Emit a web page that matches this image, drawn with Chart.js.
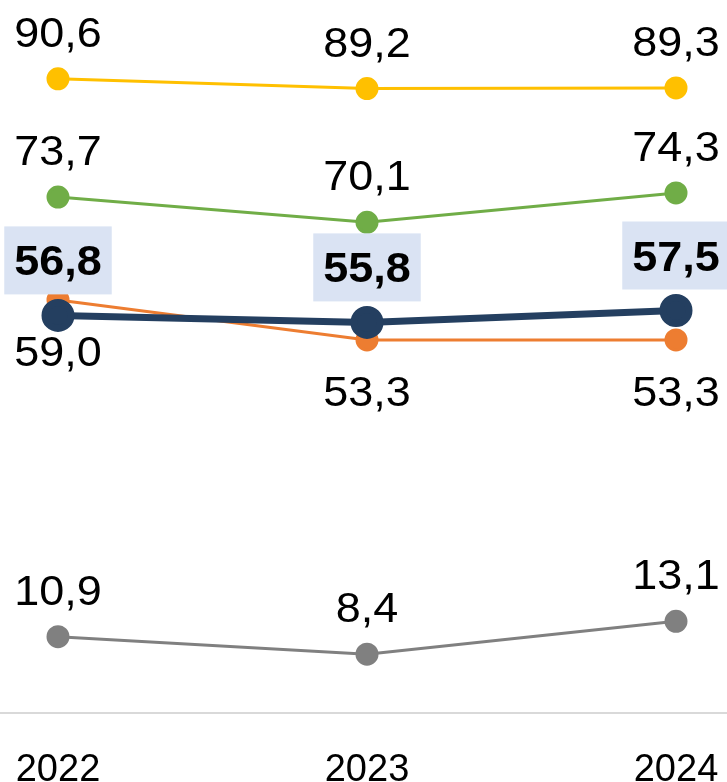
<!DOCTYPE html>
<html>
<head>
<meta charset="utf-8">
<script src="https://cdn.jsdelivr.net/npm/chart.js@4"></script>
<style>
  html, body { margin: 0; padding: 0; background: #fff; }
  #wrap { width: 727px; height: 782px; }
</style>
</head>
<body>
<div id="wrap"><canvas id="lineChart" width="727" height="782"></canvas></div>
<script>
var years = ["2022", "2023", "2024"];
var mainValues = [56.8, 55.8, 57.5];
var yellowValues = [90.6, 89.2, 89.3];
var greenValues = [73.7, 70.1, 74.3];
var orangeValues = [59.0, 53.3, 53.3];
var greyValues = [10.9, 8.4, 13.1];

var fontName = "'Liberation Sans', Arial, sans-serif";

function fmt(v) {
  return v.toFixed(1).replace(".", ",");
}

// draws value labels next to each point + the base line
var labelPlugin = {
  id: "valueLabels",
  afterDatasetsDraw: function(chart) {
    var ctx = chart.ctx;
    var y0 = chart.scales.y.getPixelForValue(0);
    ctx.save();
    ctx.strokeStyle = "#d9d9d9";
    ctx.lineWidth = 2;
    ctx.beginPath();
    ctx.moveTo(0, y0);
    ctx.lineTo(chart.width, y0);
    ctx.stroke();

    chart.data.datasets.forEach(function(ds, i) {
      var meta = chart.getDatasetMeta(i);
      meta.data.forEach(function(pt, j) {
        var txt = fmt(ds.data[j]);
        var cy;
        if (ds.labelPos == "below") {
          cy = pt.y + 51;
        } else if (ds.labelPos == "box") {
          cy = pt.y - 55;
        } else {
          cy = pt.y - 47;
        }
        ctx.font = (ds.labelPos == "box" ? "bold " : "") + "42px " + fontName;
        ctx.textAlign = "center";
        ctx.textBaseline = "alphabetic";
        var w = ctx.measureText(txt).width * 1.07;
        if (ds.labelPos == "box") {
          ctx.fillStyle = "#dae3f3";
          ctx.fillRect(pt.x - w / 2 - 10, cy - 34, w + 20, 68);
        }
        ctx.fillStyle = "#000";
        ctx.save();
        ctx.translate(pt.x, cy + 15);
        ctx.scale(1.07, 1);
        ctx.fillText(txt, 0, 0);
        ctx.restore();
      });
    });
    ctx.restore();
  }
};

var ctxL = document.getElementById("lineChart").getContext("2d");

var myChart = new Chart(ctxL, {
  type: "line",
  data: {
    labels: years,
    datasets: [
      {
        data: mainValues,
        borderColor: "#243f60",
        backgroundColor: "#243f60",
        borderWidth: 7,
        pointRadius: 13,
        labelPos: "box"
      },
      {
        data: orangeValues,
        borderColor: "#ed7d31",
        backgroundColor: "#ed7d31",
        borderWidth: 3,
        pointRadius: 10,
        labelPos: "below"
      },
      {
        data: yellowValues,
        borderColor: "#ffc000",
        backgroundColor: "#ffc000",
        borderWidth: 3,
        pointRadius: 10,
        labelPos: "above"
      },
      {
        data: greenValues,
        borderColor: "#70ad47",
        backgroundColor: "#70ad47",
        borderWidth: 3,
        pointRadius: 10,
        labelPos: "above"
      },
      {
        data: greyValues,
        borderColor: "#808080",
        backgroundColor: "#808080",
        borderWidth: 3,
        pointRadius: 10,
        labelPos: "above"
      }
    ]
  },
  options: {
    responsive: false,
    animation: false,
    layout: { padding: { left: 58, right: 51, top: 13, bottom: 0 } },
    plugins: {
      legend: { display: false },
      tooltip: { enabled: false }
    },
    elements: { line: { tension: 0 }, point: { borderWidth: 0 } },
    scales: {
      y: {
        display: false,
        min: 0,
        max: 99
      },
      x: {
        offset: false,
        grid: { display: false, drawTicks: false },
        border: { display: false },
        ticks: {
          color: "#000",
          font: { family: fontName, size: 38 },
          padding: 35,
          maxRotation: 0
        },
        afterFit: function(scale) {
          scale.height = 69;
          scale.paddingLeft = 0;
          scale.paddingRight = 0;
        }
      }
    }
  },
  plugins: [labelPlugin]
});
</script>
</body>
</html>
